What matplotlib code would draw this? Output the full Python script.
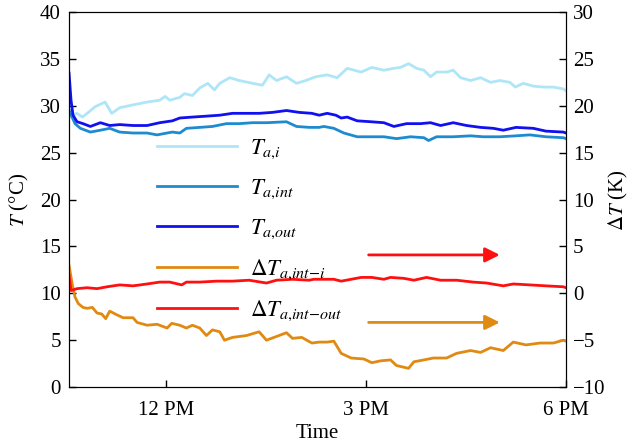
import matplotlib
matplotlib.use("Agg")
import matplotlib.pyplot as plt
from matplotlib.ticker import FixedLocator

plt.rcParams['font.family'] = ['Liberation Serif', 'DejaVu Serif']
plt.rcParams['mathtext.fontset'] = 'stix'
plt.rcParams['font.size'] = 15

# time in hours of the day
t_i = [10.55, 10.67, 10.75, 10.84, 10.94, 11.09, 11.19, 11.31, 11.51, 11.72, 11.91, 11.99,
       12.06, 12.21, 12.28, 12.40, 12.51, 12.63, 12.73, 12.81, 12.96, 13.10, 13.30, 13.45,
       13.55, 13.66, 13.81, 13.96, 14.10, 14.25, 14.42, 14.57, 14.72, 14.93, 15.09, 15.27,
       15.42, 15.52, 15.64, 15.76, 15.87, 15.97, 16.06, 16.21, 16.31, 16.42, 16.57, 16.72,
       16.87, 17.01, 17.16, 17.24, 17.36, 17.51, 17.66, 17.81, 17.96, 18.00]
T_a_i = [28.8, 29.2, 28.8, 29.3, 29.9, 30.4, 29.2, 29.8, 30.1, 30.4, 30.6, 31.0,
         30.6, 30.9, 31.3, 31.1, 31.9, 32.4, 31.7, 32.4, 33.0, 32.7, 32.4, 32.2,
         33.3, 32.7, 33.1, 32.4, 32.7, 33.1, 33.3, 33.0, 34.0, 33.6, 34.1, 33.8,
         34.0, 34.1, 34.5, 34.0, 33.8, 33.1, 33.6, 33.6, 33.8, 33.0, 32.7, 33.0,
         32.5, 32.7, 32.5, 32.0, 32.4, 32.1, 32.0, 32.0, 31.8, 31.6]

t_int = [10.55, 10.57, 10.64, 10.72, 10.87, 11.02, 11.16, 11.31, 11.51, 11.72, 11.87, 12.02,
         12.10, 12.21, 12.31, 12.51, 12.70, 12.91, 13.10, 13.30, 13.51, 13.81, 13.96, 14.15,
         14.30, 14.37, 14.52, 14.67, 14.87, 15.08, 15.27, 15.46, 15.67, 15.87, 15.94, 16.06,
         16.31, 16.57, 16.76, 17.01, 17.25, 17.46, 17.70, 17.96, 18.00]
T_a_int = [29.6, 29.2, 28.1, 27.6, 27.2, 27.4, 27.6, 27.2, 27.1, 27.1, 26.9, 27.1,
           27.2, 27.1, 27.6, 27.7, 27.8, 28.1, 28.1, 28.2, 28.2, 28.3, 27.8, 27.7,
           27.7, 27.8, 27.6, 27.1, 26.7, 26.7, 26.7, 26.5, 26.7, 26.6, 26.3, 26.7,
           26.7, 26.8, 26.7, 26.7, 26.8, 26.9, 26.7, 26.6, 26.5]

t_out = [10.55, 10.58, 10.61, 10.67, 10.76, 10.87, 11.02, 11.16, 11.31, 11.51, 11.72, 11.91,
         12.10, 12.21, 12.40, 12.61, 12.81, 13.00, 13.21, 13.40, 13.60, 13.81, 14.00, 14.19,
         14.30, 14.42, 14.55, 14.63, 14.72, 14.87, 15.08, 15.27, 15.42, 15.61, 15.82, 15.97,
         16.12, 16.31, 16.51, 16.72, 16.91, 17.06, 17.25, 17.51, 17.70, 17.96, 18.00]
T_a_out = [33.5, 30.6, 29.0, 28.3, 28.1, 27.8, 28.2, 27.9, 28.0, 27.9, 27.9, 28.2,
           28.4, 28.7, 28.8, 28.9, 29.0, 29.2, 29.2, 29.2, 29.3, 29.5, 29.3, 29.2,
           29.0, 29.2, 29.0, 28.7, 28.8, 28.4, 28.3, 28.2, 27.8, 28.1, 28.1, 28.2,
           27.9, 28.2, 27.9, 27.7, 27.6, 27.4, 27.7, 27.6, 27.3, 27.2, 27.1]

t_d_i = [10.55, 10.60, 10.64, 10.69, 10.76, 10.82, 10.90, 10.97, 11.04, 11.10, 11.16, 11.27,
         11.36, 11.51, 11.57, 11.72, 11.87, 12.02, 12.09, 12.21, 12.31, 12.40, 12.51, 12.61,
         12.70, 12.81, 12.88, 13.00, 13.21, 13.40, 13.51, 13.66, 13.81, 13.90, 14.04, 14.19,
         14.30, 14.42, 14.52, 14.63, 14.78, 14.97, 15.09, 15.22, 15.37, 15.46, 15.64, 15.72,
         15.87, 16.01, 16.21, 16.36, 16.57, 16.72, 16.87, 17.06, 17.21, 17.40, 17.61, 17.81,
         17.96, 18.00]
dT_int_i = [3.0, 0.9, -0.4, -1.1, -1.5, -1.6, -1.5, -2.1, -2.2, -2.7, -1.9, -2.3,
            -2.6, -2.6, -3.1, -3.4, -3.3, -3.7, -3.2, -3.4, -3.7, -3.4, -3.7, -4.5,
            -3.9, -4.1, -5.0, -4.7, -4.5, -4.1, -5.0, -4.6, -4.2, -4.8, -4.7, -5.3,
            -5.2, -5.2, -5.1, -6.4, -6.9, -7.0, -7.4, -7.2, -7.1, -7.7, -8.0, -7.3,
            -7.1, -6.9, -6.9, -6.4, -6.1, -6.3, -5.8, -6.1, -5.2, -5.5, -5.3, -5.3,
            -5.0, -5.1]

t_d_out = [10.55, 10.58, 10.67, 10.82, 10.97, 11.12, 11.31, 11.51, 11.72, 11.91, 12.06, 12.24,
           12.31, 12.51, 12.76, 13.00, 13.25, 13.51, 13.66, 13.90, 14.15, 14.22, 14.52, 14.63,
           14.93, 15.09, 15.27, 15.37, 15.57, 15.72, 15.91, 16.12, 16.36, 16.61, 16.81, 17.06,
           17.21, 17.46, 17.70, 17.96, 18.00]
dT_int_out = [1.9, 0.3, 0.5, 0.6, 0.5, 0.7, 0.9, 0.8, 1.0, 1.2, 1.2, 0.9,
              1.2, 1.2, 1.3, 1.3, 1.4, 1.1, 1.4, 1.5, 1.4, 1.5, 1.5, 1.3,
              1.7, 1.7, 1.5, 1.7, 1.6, 1.4, 1.7, 1.4, 1.4, 1.2, 1.1, 0.8,
              1.0, 0.9, 0.8, 0.7, 0.6]

x_ticks = [12, 15, 18]
x_labels = ['12 PM', '3 PM', '6 PM']

c_i = '#aee6f8'
c_int = '#1e8bd0'
c_out = '#1010f0'
c_di = '#e08a12'
c_dout = '#ff1010'

fig = plt.figure(figsize=(6.35, 4.47), dpi=100)
ax = fig.add_axes([0.1087, 0.134, 0.7826, 0.839])
ax2 = ax.twinx()

l1, = ax.plot(t_i, T_a_i, color=c_i, lw=2)
l2, = ax.plot(t_int, T_a_int, color=c_int, lw=2)
l3, = ax.plot(t_out, T_a_out, color=c_out, lw=2)
l4, = ax2.plot(t_d_i, dT_int_i, color=c_di, lw=2)
l5, = ax2.plot(t_d_out, dT_int_out, color=c_dout, lw=2)

ax.set_xlim(10.55, 18.0)
ax.set_ylim(0, 40)
ax2.set_ylim(-10, 30)
ax.set_yticks(range(0, 41, 5))
ax2.set_yticks(range(-10, 31, 5))
ax.xaxis.set_major_locator(FixedLocator(x_ticks))
ax.set_xticklabels(x_labels)

ax.tick_params(direction='in', length=5, width=1, top=False, right=False)
ax.tick_params(axis='y', pad=6)
ax.tick_params(axis='x', pad=10)
ax2.tick_params(direction='in', length=5, width=1, pad=5)

ax.set_xlabel('Time', labelpad=3)
ax.set_ylabel(r'$T$ (°C)', labelpad=6)
ax2.set_ylabel(r'$\Delta T$ (K)', labelpad=1)

# arrows point to the right-hand axis
ax2.annotate('', xy=(17.05, 4.1), xytext=(15.0, 4.1),
             arrowprops=dict(arrowstyle='-|>', color=c_dout, lw=2, mutation_scale=22))
ax2.annotate('', xy=(17.05, -3.1), xytext=(15.0, -3.1),
             arrowprops=dict(arrowstyle='-|>', color=c_di, lw=2, mutation_scale=22))

labels = [r'$T_{a{,}i}$', r'$T_{a{,}int}$', r'$T_{a{,}out}$',
          r'$\Delta T_{a{,}int\!-\!i}$', r'$\Delta T_{a{,}int\!-\!out}$']
leg = ax2.legend([l1, l2, l3, l4, l5], labels, loc='upper left',
                 bbox_to_anchor=(0.135, 0.72), frameon=False, fontsize=16.5,
                 handlelength=3.5, handletextpad=0.55, labelspacing=0.72)

fig.savefig('out.png', dpi=100)
